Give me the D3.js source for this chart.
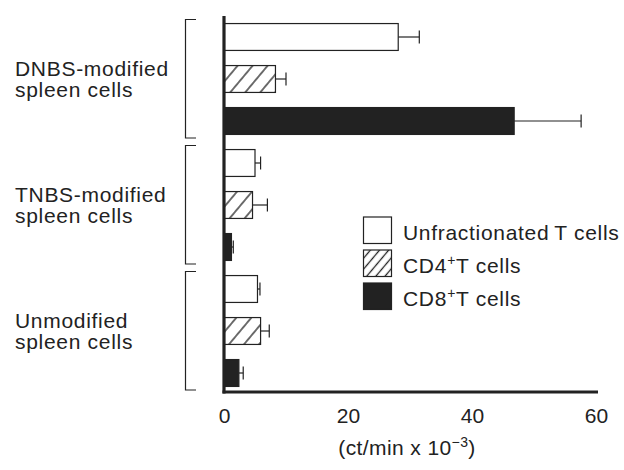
<!DOCTYPE html>
<html>
<head>
<meta charset="utf-8">
<script src="https://cdn.jsdelivr.net/npm/d3@7"></script>
<style>
  body { margin: 0; background: #fff; }
  text { font-family: "Liberation Sans", Arial, sans-serif; fill: #222; }
</style>
</head>
<body>
<div id="chart"></div>
<script>
// chart data
var groups = ["DNBS", "TNBS", "Unmod"];
var groupLabels = [["DNBS-modified", "spleen cells"], ["TNBS-modified", "spleen cells"], ["Unmodified", "spleen cells"]];
var series = ["unfrac", "cd4", "cd8"];
var unfracMean = [28.1, 5.0, 5.4];
var unfracErr = [3.4, 0.9, 0.4];
var cd4Mean = [8.3, 4.6, 5.9];
var cd4Err = [1.7, 2.4, 1.4];
var cd8Mean = [46.8, 1.2, 2.4];
var cd8Err = [10.8, 0.3, 0.7];
var xTicks = [0, 20, 40, 60];

var w = 624, h = 470;
var dark = "#222";

var svg = d3.select("#chart").append("svg")
    .attr("width", w)
    .attr("height", h);

// hatch patterns
var defs = svg.append("defs");
function hatch(id, gap) {
    var p = defs.append("pattern")
        .attr("id", id)
        .attr("patternUnits", "userSpaceOnUse")
        .attr("width", gap)
        .attr("height", gap)
        .attr("patternTransform", "rotate(40)");
    p.append("rect").attr("width", gap).attr("height", gap).attr("fill", "#fff");
    p.append("line")
        .attr("x1", gap / 2).attr("x2", gap / 2)
        .attr("y1", 0).attr("y2", gap)
        .attr("stroke", dark)
        .attr("stroke-width", 1.3);
}
hatch("hatchBar", 11.5);
hatch("hatchKey", 7);

var fills = { unfrac: "#fff", cd4: "url(#hatchBar)", cd8: dark };
var keyFills = { unfrac: "#fff", cd4: "url(#hatchKey)", cd8: dark };

var rows = [];
groups.forEach(function (g, i) {
    rows.push({ group: g, s: "unfrac", v: unfracMean[i], e: unfracErr[i] });
    rows.push({ group: g, s: "cd4", v: cd4Mean[i], e: cd4Err[i] });
    rows.push({ group: g, s: "cd8", v: cd8Mean[i], e: cd8Err[i] });
});

var x = d3.scaleLinear().domain([0, 60]).range([224, 596]);
var y0 = d3.scaleBand().domain(groups).range([16, 394]);
var y1 = d3.scaleBand().domain(series).range([0, y0.bandwidth()])
    .paddingInner(0.36).paddingOuter(0.18);

// brackets + group labels
groups.forEach(function (g, i) {
    var top = y0(g) + 3.5, bot = y0(g) + y0.bandwidth() - 4;
    svg.append("path")
        .attr("d", "M196," + top + "H185.5V" + bot + "H196")
        .attr("fill", "none")
        .attr("stroke", dark)
        .attr("stroke-width", 1.2);
    var cy = y0(g) + y0.bandwidth() / 2;
    var t = svg.append("text")
        .attr("x", 15)
        .attr("y", cy - 3)
        .attr("font-size", 21)
        .attr("letter-spacing", 0.7);
    t.append("tspan").attr("x", 15).text(groupLabels[i][0]);
    t.append("tspan").attr("x", 15).attr("dy", 21).text(groupLabels[i][1]);
});

// error bars
var err = svg.selectAll(".err").data(rows).enter().append("g").attr("class", "err");
err.append("line")
    .attr("x1", function (d) { return x(d.v); })
    .attr("x2", function (d) { return x(d.v + d.e); })
    .attr("y1", function (d) { return y0(d.group) + y1(d.s) + y1.bandwidth() / 2; })
    .attr("y2", function (d) { return y0(d.group) + y1(d.s) + y1.bandwidth() / 2; })
    .attr("stroke", dark).attr("stroke-width", 1.2);
err.append("line")
    .attr("x1", function (d) { return x(d.v + d.e); })
    .attr("x2", function (d) { return x(d.v + d.e); })
    .attr("y1", function (d) { return y0(d.group) + y1(d.s) + y1.bandwidth() / 2 - 6.5; })
    .attr("y2", function (d) { return y0(d.group) + y1(d.s) + y1.bandwidth() / 2 + 6.5; })
    .attr("stroke", dark).attr("stroke-width", 1.2);

// bars
svg.selectAll(".bar").data(rows).enter().append("rect")
    .attr("class", "bar")
    .attr("x", x(0))
    .attr("y", function (d) { return y0(d.group) + y1(d.s); })
    .attr("width", function (d) { return x(d.v) - x(0); })
    .attr("height", y1.bandwidth())
    .attr("fill", function (d) { return fills[d.s]; })
    .attr("stroke", dark)
    .attr("stroke-width", 1.2);

// axes
svg.append("line")
    .attr("x1", x(0)).attr("x2", x(0))
    .attr("y1", y0.range()[0]).attr("y2", 393.5)
    .attr("stroke", dark).attr("stroke-width", 3.2);

var xAxis = d3.axisBottom(x).tickValues(xTicks).tickSize(0).tickSizeOuter(0).tickPadding(16);
var gx = svg.append("g")
    .attr("transform", "translate(0,392)")
    .call(xAxis);
gx.select(".domain").attr("stroke", dark).attr("stroke-width", 3.2)
    .attr("d", "M" + (x(0) - 1.5) + ",0H" + (x(60) + 2));
gx.selectAll(".tick text")
    .attr("font-size", 21)
    .attr("font-family", "Liberation Sans, Arial, sans-serif")
    .attr("fill", dark);

var title = svg.append("text")
    .attr("x", 407)
    .attr("y", 455)
    .attr("text-anchor", "middle")
    .attr("font-size", 21)
    .attr("letter-spacing", 0.4);
title.append("tspan").text("(ct/min x 10");
title.append("tspan").attr("font-size", 14).attr("dy", -8).text("\u22123");
title.append("tspan").attr("dy", 8).text(")");

// legend
var keyNames = [["Unfractionated\u2009T cells", ""], ["CD4", "+", "T cells"], ["CD8", "+", "T cells"]];
var keyY = [217, 250, 283];
series.forEach(function (s, i) {
    svg.append("rect")
        .attr("x", 363.5).attr("y", keyY[i])
        .attr("width", 28).attr("height", 26.5)
        .attr("fill", keyFills[s])
        .attr("stroke", dark).attr("stroke-width", 1.2);
    var t = svg.append("text")
        .attr("x", 403)
        .attr("y", keyY[i] + 22.5)
        .attr("font-size", 21)
        .attr("letter-spacing", 0.7);
    var n = keyNames[i];
    t.append("tspan").text(n[0]);
    if (n.length > 2) {
        t.append("tspan").attr("font-size", 14).attr("dy", -8).text(n[1]);
        t.append("tspan").attr("dy", 8).text(n[2]);
    }
});
</script>
</body>
</html>
